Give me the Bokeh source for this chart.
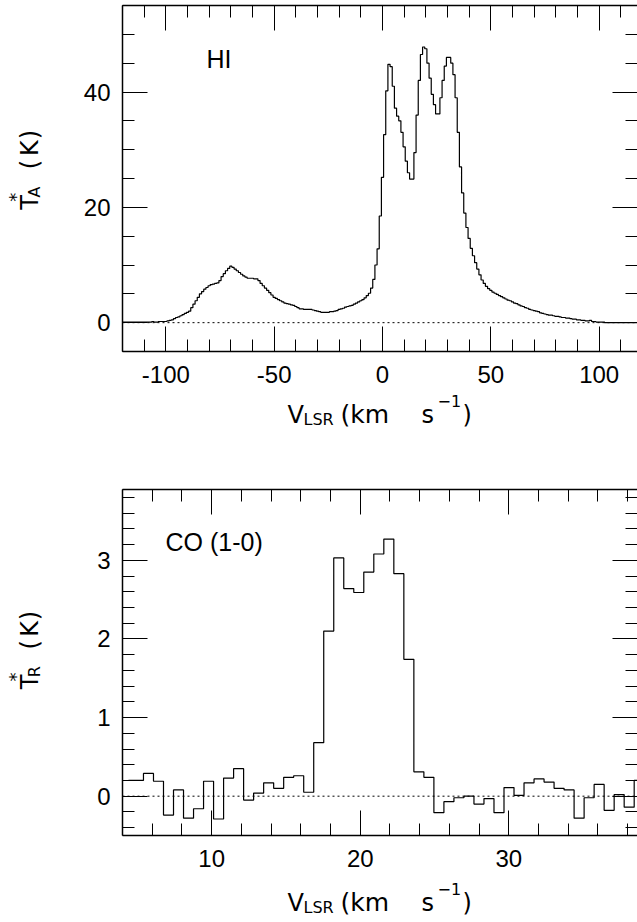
import math
import numpy as np
from bokeh.plotting import figure
from bokeh.models import (Range1d, LinearAxis, SingleIntervalTicker, Span, Label,
                          CustomJSTickFormatter)
from bokeh.layouts import column, row
from bokeh.embed import file_html
from bokeh.resources import INLINE

FONT = "Liberation Sans"
LFONT = "DejaVu Sans"

# ---------------- data ----------------
# HI spectrum: channel centres start at hi_v0 with width hi_dv (km/s)
hi_v0 = -120.0
hi_dv = 1.0
hi_ta = [
    0.1, 0.1, 0.1, 0.1, 0.1, 0.1, 0.1, 0.1, 0.1, 0.1,
    0.1, 0.1, 0.1, 0.1, 0.2, 0.1, 0.1, 0.2, 0.2, 0.2,
    0.2, 0.3, 0.4, 0.5, 0.7, 0.9, 1.0, 1.2, 1.4, 1.6,
    1.8, 2.0, 2.6, 3.2, 3.8, 4.4, 5.0, 5.4, 5.8, 6.1,
    6.4, 6.6, 6.7, 6.8, 6.9, 7.3, 8.0, 8.5, 9.0, 9.4,
    9.8, 9.6, 9.3, 9.0, 8.7, 8.4, 8.1, 7.9, 7.7, 7.7,
    7.7, 7.6, 7.6, 7.3, 6.8, 6.4, 6.0, 5.6, 5.2, 4.8,
    4.4, 4.2, 4.0, 3.8, 3.6, 3.4, 3.3, 3.2, 3.1, 3.0,
    2.8, 2.6, 2.4, 2.4, 2.3, 2.3, 2.3, 2.3, 2.2, 2.1,
    2.0, 1.9, 1.8, 1.8, 1.8, 1.8, 1.9, 1.9, 2.0, 2.1,
    2.3, 2.4, 2.5, 2.7, 2.8, 2.9, 3.0, 3.2, 3.4, 3.6,
    3.8, 4.0, 4.3, 4.7, 5.1, 6.0, 7.5, 10.0, 12.8, 18.5,
    25.2, 32.6, 40.2, 44.8, 44.4, 41.0, 37.2, 35.8, 35.0, 33.0,
    30.5, 28.0, 26.0, 24.9, 24.9, 29.5, 36.0, 42.0, 46.5, 47.8,
    47.5, 45.0, 42.4, 39.6, 37.8, 36.2, 36.2, 39.0, 42.0, 44.5,
    46.0, 46.0, 45.0, 43.0, 39.0, 33.0, 27.0, 22.5, 19.0, 16.5,
    14.6, 12.9, 11.6, 10.4, 9.3, 8.3, 7.4, 6.8, 6.3, 5.9,
    5.6, 5.3, 5.1, 4.9, 4.7, 4.5, 4.3, 4.1, 3.9, 3.8,
    3.6, 3.4, 3.3, 3.1, 2.9, 2.8, 2.6, 2.5, 2.3, 2.2,
    2.1, 2.0, 1.9, 1.7, 1.6, 1.5, 1.4, 1.3, 1.3, 1.2,
    1.1, 1.1, 1.0, 0.9, 0.9, 0.8, 0.8, 0.7, 0.6, 0.6,
    0.5, 0.5, 0.4, 0.4, 0.3, 0.3, 0.4, 0.2, 0.2, 0.1,
    0.1, 0.1, 0.1, 0.0, 0.0, 0.0, 0.0, 0.0, 0.0, 0.0,
    0.0,
    0.0, 0.0, 0.0, 0.0, 0.0, 0.0, 0.0, 0.0, 0.0, 0.0,
]

# CO (1-0) spectrum: channel centres start at co_v0 with width co_dv (km/s)
co_v0 = 4.40
co_dv = 0.674
co_tr = [
    0.20, 0.20, 0.29, 0.19, -0.24, 0.08, -0.28, -0.16, 0.19, -0.29,
    0.23, 0.35, -0.05, 0.04, 0.17, 0.10, 0.24, 0.26, 0.05, 0.68,
    2.10, 3.03, 2.64, 2.59, 2.85, 3.08, 3.27, 2.83, 1.74, 0.31,
    0.24, -0.21, -0.07, -0.02, 0.00, -0.10, -0.03, -0.21, 0.11, 0.01,
    0.17, 0.22, 0.18, 0.10, 0.08, -0.28, -0.02, 0.15, -0.18, 0.02,
    -0.14, 0.20,
]

hi_vel = hi_v0 + hi_dv * np.arange(len(hi_ta))
co_vel = co_v0 + co_dv * np.arange(len(co_tr))

hi_xrange = (-120.0, 117.7)
hi_yrange = (-5.0, 55.0)
co_xrange = (4.0, 38.66)
co_yrange = (-0.5, 3.9)

hi_label = "HI"
co_label = "CO (1-0)"

INT_FMT = CustomJSTickFormatter(code="return tick.toFixed(0);")
EMPTY_FMT = CustomJSTickFormatter(code="return '';")


def make_axis(ticker, show_labels, line=True):
    ax = LinearAxis(ticker=ticker)
    ax.major_tick_in = 25
    ax.major_tick_out = 0
    ax.minor_tick_in = 12
    ax.minor_tick_out = 0
    ax.axis_line_color = "black" if line else None
    ax.axis_line_width = 1.5
    ax.major_tick_line_color = "black"
    ax.minor_tick_line_color = "black"
    ax.major_tick_line_width = 1
    ax.minor_tick_line_width = 1
    if show_labels:
        ax.formatter = INT_FMT
        ax.major_label_text_font = FONT
        ax.major_label_text_font_size = "24px"
        ax.major_label_text_color = "black"
    else:
        ax.formatter = EMPTY_FMT
        ax.major_label_text_font_size = "1px"
        ax.major_label_standoff = 0
    return ax


def make_fig(width, height, xr, yr, xint, xminor, yint, yminor, bleft, btop, bbottom):
    p = figure(width=width, height=height, x_range=Range1d(*xr), y_range=Range1d(*yr),
               output_backend="svg", toolbar_location=None, title=None,
               x_axis_location=None, y_axis_location=None,
               min_border_left=bleft, min_border_right=0,
               min_border_top=btop, min_border_bottom=bbottom)
    p.outline_line_color = None
    for g in p.grid:
        g.visible = False
    xt = SingleIntervalTicker(interval=xint, num_minor_ticks=xminor)
    yt = SingleIntervalTicker(interval=yint, num_minor_ticks=yminor)
    bx = make_axis(xt, True)
    bx.major_label_standoff = 14
    ly = make_axis(yt, True)
    ly.major_label_standoff = 12
    p.add_layout(bx, "below")
    p.add_layout(ly, "left")
    p.add_layout(make_axis(xt, False), "above")
    p.add_layout(make_axis(yt, False, line=False), "right")
    p.add_layout(Span(location=0, dimension="width", line_color="black",
                      line_width=1, line_dash="2 3"))
    return p


def text_fig(width, height):
    p = figure(width=width, height=height, x_range=Range1d(0, width), y_range=Range1d(0, height),
               output_backend="svg", toolbar_location=None, title=None,
               x_axis_location=None, y_axis_location=None, min_border=0)
    p.outline_line_color = None
    for g in p.grid:
        g.visible = False
    return p


def put(p, x, y, text, size, angle=0.0, font=LFONT):
    p.add_layout(Label(x=x, y=y, text=text, text_font=font, text_font_size=f"{size}px",
                       text_color="black", text_align="left", text_baseline="alphabetic",
                       angle=angle))


def xlabel_fig(height, base):
    # base: baseline height (pixels from the bottom of this strip) of the main text
    p = text_fig(637, height)
    put(p, 287, base, "V", 24)
    put(p, 303, base - 5, "LSR", 16)
    put(p, 340, base, "(km", 25)
    put(p, 421, base, "s", 24)
    put(p, 437, base + 14, "\u22121", 16)
    put(p, 462, base, ")", 24)
    return p


def ylabel_fig(height, start, sub):
    a = math.pi / 2
    p = text_fig(60, height)
    put(p, 29, start, "T", 24, a)
    put(p, 15, start + 9, "*", 18, a)
    put(p, 34, start + 14, sub, 16, a)
    put(p, 29, start + 46, "(", 24, a)
    put(p, 29, start + 61, "K", 24, a)
    put(p, 29, start + 80, ")", 24, a)
    return p


# ---------------- top panel: HI ----------------
p1 = make_fig(577, 393, hi_xrange, hi_yrange, 50, 5, 20, 4, 62, 5, 42)
p1.step(hi_vel, hi_ta, mode="center", line_color="black", line_width=1.2)
p1.add_layout(Label(x=hi_xrange[0], y=hi_yrange[0], x_offset=84, y_offset=279, text=hi_label,
                    text_font=FONT, text_font_size="25px", text_color="black"))
yl1 = ylabel_fig(393, 161, "A")
xl1 = xlabel_fig(82, 61)

# ---------------- bottom panel: CO (1-0) ----------------
p2 = make_fig(577, 402, co_xrange, co_yrange, 10, 5, 1, 5, 62, 14, 42)
p2.step(co_vel, co_tr, mode="center", line_color="black", line_width=1.2)
p2.add_layout(Label(x=co_xrange[0], y=co_yrange[0], x_offset=43, y_offset=280, text=co_label,
                    text_font=FONT, text_font_size="25px", text_color="black"))
yl2 = ylabel_fig(402, 170, "R")
xl2 = xlabel_fig(45, 20)

layout = column(row(yl1, p1, spacing=0), xl1, row(yl2, p2, spacing=0), xl2, spacing=0)
open("out.html", "w").write(file_html(layout, INLINE))
